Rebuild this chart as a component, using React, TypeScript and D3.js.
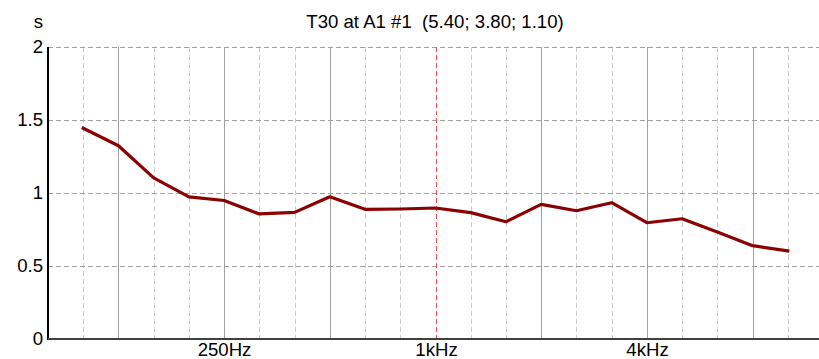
import React from "react";
import * as d3 from "d3";

// Third-octave band centres (nominal), 100 Hz – 10 kHz
const bands = [100, 125, 160, 200, 250, 315, 400, 500, 630, 800, 1000, 1250, 1600, 2000, 2500, 3150, 4000, 5000, 6300, 8000, 10000];
// T30 per band, seconds
const t30 = [1.44, 1.32, 1.1, 0.97, 0.945, 0.853, 0.864, 0.971, 0.885, 0.887, 0.894, 0.862, 0.8, 0.919, 0.875, 0.93, 0.793, 0.82, 0.73, 0.636, 0.6];
// Octave centres drawn as solid grid lines
const octaves = [125, 250, 500, 1000, 2000, 4000, 8000];
const freqLabels = [{ f: 250, text: "250Hz" }, { f: 1000, text: "1kHz" }, { f: 4000, text: "4kHz" }];
const yTicks = [0, 0.5, 1, 1.5, 2];
const title = "T30 at A1 #1  (5.40; 3.80; 1.10)";

// exact third-octave frequency for band index relative to 1 kHz
const exact = (n: number) => 1000 * Math.pow(2, n / 3);
const bandIndex = (f: number) => Math.round(3 * Math.log2(f / 1000));

export default function App() {
  const W = 819, H = 359;
  const left = 48, top = 46.5, bottom = 338.5;
  const x = d3.scaleLog().domain([exact(-11), exact(11)]).range([left, 823]);
  const y = d3.scaleLinear().domain([0, 2]).range([bottom, top]);
  const fx = (f: number) => Math.round(x(exact(bandIndex(f)))) + 0.5;

  const line = d3.line<number>()
    .x((_, i) => x(exact(bandIndex(bands[i]))))
    .y((v) => y(v));

  const gridBands = d3.range(-10, 12).map(exact);
  const font = "'Liberation Sans', Arial, sans-serif";
  const fs = 18.6;

  return (
    <svg width={W} height={H} style={{ position: "absolute", left: 0, top: 0, background: "#fff" }} fontFamily={font}>
      <rect width={W} height={H} fill="#fff" />
      {/* vertical grid */}
      {gridBands.map((f, i) => {
        const n = i - 10;
        if (n === 0) return null;
        const nominal = bands.find((b) => bandIndex(b) === n);
        const isOct = nominal !== undefined && octaves.includes(nominal);
        const px = Math.round(x(f)) + 0.5;
        return (
          <line key={i} x1={px} x2={px} y1={top} y2={bottom}
            stroke={isOct ? "#a0a0a0" : "#cccccc"} strokeWidth={1}
            strokeDasharray={isOct ? undefined : "5,3"} shapeRendering="crispEdges" />
        );
      })}
      {/* horizontal grid */}
      {yTicks.filter((t) => t > 0).map((t) => (
        <line key={t} x1={left} x2={W} y1={Math.round(y(t)) + 0.5} y2={Math.round(y(t)) + 0.5}
          stroke="#a0a0a0" strokeWidth={1} strokeDasharray="5,3" shapeRendering="crispEdges" />
      ))}
      {/* 1 kHz marker */}
      <line x1={fx(1000)} x2={fx(1000)} y1={top} y2={bottom} stroke="#ff4a4a" strokeWidth={1.3}
        strokeDasharray="5,3" shapeRendering="crispEdges" />
      {/* axes */}
      <line x1={left} x2={left} y1={top} y2={bottom + 1} stroke="#000" strokeWidth={2} shapeRendering="crispEdges" />
      <line x1={left} x2={W} y1={bottom} y2={bottom} stroke="#404040" strokeWidth={2} shapeRendering="crispEdges" />
      {/* data */}
      <path d={line(t30) || ""} fill="none" stroke="#8b0000" strokeWidth={3.2} strokeLinejoin="round" strokeLinecap="square" />
      {/* y ticks */}
      {yTicks.map((t) => (
        <text key={t} x={43} y={y(t)} dy="0.36em" textAnchor="end" fontSize={fs} fill="#000">{t}</text>
      ))}
      <text x={43} y={28} textAnchor="end" fontSize={fs} fill="#000">s</text>
      {/* x labels */}
      {freqLabels.map((l) => (
        <text key={l.text} x={fx(l.f)} y={356} textAnchor="middle" fontSize={fs} fill="#000">{l.text}</text>
      ))}
      <text x={435} y={28} textAnchor="middle" fontSize={fs} fill="#000" style={{ whiteSpace: "pre" }}>{title}</text>
    </svg>
  );
}
